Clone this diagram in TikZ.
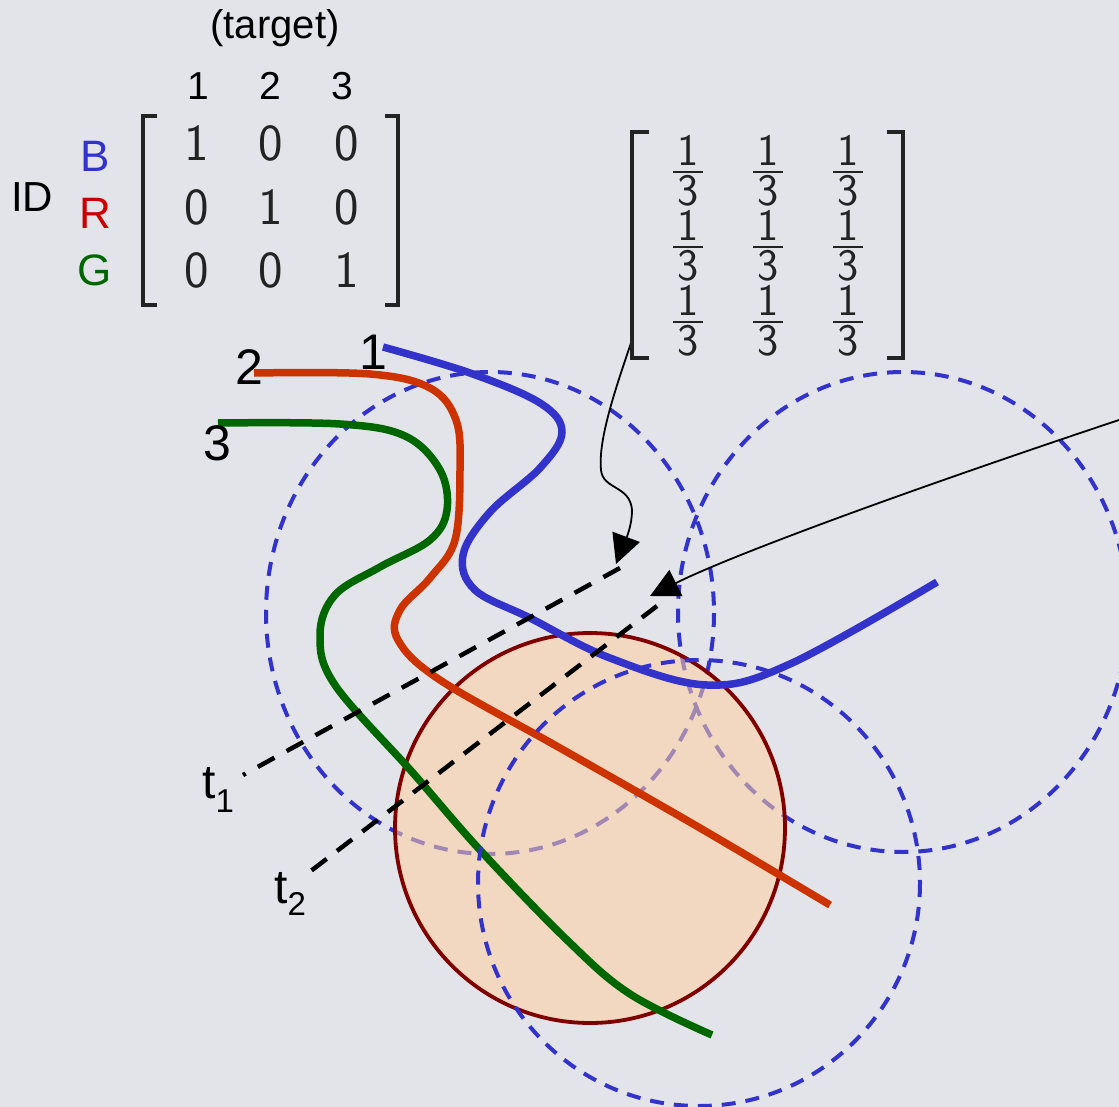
\documentclass[tikz,border=0pt]{standalone}
\usepackage{fontspec}
\setmainfont{Liberation Sans}
\usetikzlibrary{arrows.meta}
\definecolor{bg}{RGB}{227,228,234}
\definecolor{cblue}{RGB}{51,51,204}
\definecolor{cred}{RGB}{204,51,0}
\definecolor{lred}{RGB}{204,0,0}
\definecolor{cgreen}{RGB}{0,102,0}
\definecolor{peach}{RGB}{255,205,160}
\definecolor{dred}{RGB}{128,0,0}
\definecolor{brk}{RGB}{35,35,35}
\begin{document}
\begin{tikzpicture}[x=1pt,y=-1pt,
  bluedash/.style={cblue, line width=4pt, dash pattern=on 14pt off 10pt},
  tline/.style={black, line width=4.5pt, dash pattern=on 19pt off 13pt},
  curve/.style={line width=7.5pt},
  ptr/.style={black, line width=1.8pt, -{Triangle[length=29pt,width=29pt]}},
  brack/.style={brk, line width=3.2pt},
  lbl/.style={inner sep=0pt, font=\fontsize{50}{50}\selectfont},
  head/.style={inner sep=0pt, font=\fontsize{39}{39}\selectfont},
  ent/.style={inner sep=0pt, text=brk, font=\sffamily\addfontfeatures{FakeBold=0.8}\fontsize{52}{52}\selectfont},
  fr/.style={inner sep=0pt, text=brk, font=\sffamily\addfontfeatures{FakeBold=0.8}\fontsize{45}{45}\selectfont},
  rowl/.style={inner sep=0pt, font=\fontsize{44}{44}\selectfont}
]
\fill[bg] (0,0) rectangle (1119,1107);
\useasboundingbox (0,0) rectangle (1119,1107);

% dashed circles under the disc
\draw[bluedash] (490,613) ellipse [x radius=224, y radius=241];
\draw[bluedash] (903,612) ellipse [x radius=225, y radius=240];

% disc
\fill[peach, fill opacity=0.55] (590,828) circle [radius=195];
\draw[dred, line width=3.8pt] (590,828) circle [radius=195];

% curves
\draw[curve, cblue] plot[smooth, tension=0.6] coordinates {(383,347) (470,373) (540,403) (562,432) (540,468) (490,512) (463,555) (475,590) (530,618) (610,658) (707,685) (790,664) (937,582)};
\draw[curve, cred] plot[smooth, tension=0.6] coordinates {(254,373) (370,374) (430,388) (456,420) (460,470) (455,540) (430,578) (400,610) (398,640) (440,680) (560,748) (700,828) (830,905)};
\draw[curve, cgreen] plot[smooth, tension=0.6] coordinates {(218,423) (340,424) (405,436) (440,470) (447,510) (430,540) (380,567) (335,595) (320,635) (335,685) (413,773) (480,850) (567,940) (630,994) (712,1035)};

% dashed circle over the disc
\draw[bluedash] (699,883) ellipse [x radius=221, y radius=223];

% time lines
\coordinate (t1e) at (620,568);
\coordinate (t1s) at (243,775);
\coordinate (t2e) at (657,606);
\coordinate (t2s) at (303,877);
\draw[tline, dash pattern=on 19pt off 13.85pt] (t1e) -- (t1s);
\draw[tline] (t2e) -- (t2s);

% pointers
\coordinate (a1s) at (632,340);
\coordinate (a1e) at (616,564);
\coordinate (a2s) at (1122,419);
\coordinate (a2e) at (650,596);
\draw[ptr] (a1s) .. controls (615,390) and (598,440) .. (601,470) .. controls (603,490) and (630,485) .. (632,510) .. controls (632,530) and (622,548) .. (a1e);
\draw[ptr] (a2s) .. controls (900,493) and (730,556) .. (a2e);

% identity matrix
\node[inner sep=0pt, font=\fontsize{40}{40}\selectfont] (tgt) at (275,28) {(target)};
\node[head] (h1) at (198,86) {1};
\node[head] (h2) at (270,86) {2};
\node[head] (h3) at (342,86) {3};
\node[inner sep=0pt, font=\fontsize{42}{42}\selectfont] (id) at (32,197) {ID};
\node[rowl, text=cblue] (rb) at (95,156) {B};
\node[rowl, text=lred] (rr) at (95,213) {R};
\node[rowl, text=cgreen] (rg) at (95,270) {G};
\draw[brack] (157,116) -- (143,116) -- (143,305) -- (157,305);
\draw[brack] (385,116) -- (398,116) -- (398,305) -- (385,305);
\node[ent] (m11) at (197,143) {1};
\node[ent] (m12) at (271,143) {0};
\node[ent] (m13) at (347,143) {0};
\node[ent] (m21) at (197,207) {0};
\node[ent] (m22) at (271,207) {1};
\node[ent] (m23) at (347,207) {0};
\node[ent] (m31) at (197,270) {0};
\node[ent] (m32) at (271,270) {0};
\node[ent] (m33) at (347,270) {1};

% averaging matrix
\draw[brack] (649,132) -- (632,132) -- (632,358) -- (649,358);
\draw[brack] (887,132) -- (903,132) -- (903,358) -- (887,358);
\foreach \r in {0,1,2}{
  \foreach \c/\cx in {1/688,2/768,3/848}{
    \node[fr] (n\r\c) at (\cx,{150+75*\r}) {1};
    \node[fr] (d\r\c) at (\cx,{191+75*\r}) {3};
    \draw[brk, line width=2.8pt] ({\cx-15},{172+75*\r}) -- ({\cx+15},{172+75*\r});
  }
}

% curve labels
\node[lbl] (l1) at (373,352) {1};
\node[lbl] (l2) at (249,367) {2};
\node[lbl] (l3) at (217,443) {3};
\node[anchor=base west, inner sep=0pt] (lt1) at (202,798) {\fontsize{48}{48}\selectfont t\raisebox{-14pt}{\fontsize{33}{33}\selectfont 1}};
\node[anchor=base west, inner sep=0pt] (lt2) at (274,903) {\fontsize{48}{48}\selectfont t\raisebox{-12pt}{\fontsize{33}{33}\selectfont 2}};
\end{tikzpicture}
\end{document}
